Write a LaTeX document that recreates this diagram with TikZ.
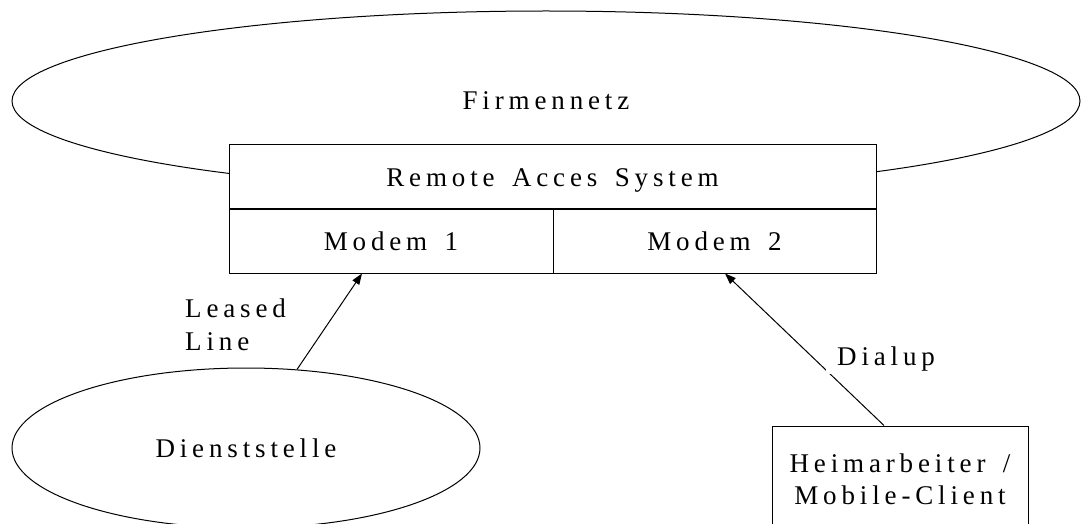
\documentclass[tikz,border=0pt]{standalone}
\usepackage{fontspec}
\setmainfont{Liberation Serif}[LetterSpace=18,WordSpace=1.5]
\usetikzlibrary{shapes.geometric,arrows.meta}
\tikzset{
  every node/.style={font=\fontsize{27}{32.4}\selectfont},
  oval/.style={draw, ellipse, inner sep=0pt, line width=1pt},
  cell/.style={draw, rectangle, fill=white, line width=1pt, inner sep=0pt,
    text height=18pt, text depth=0pt},
  clientbox/.style={draw, rectangle, fill=white, line width=1pt, inner sep=0pt, align=center},
  label/.style={inner sep=0pt, align=left},
  link/.style={line width=1pt, -{Triangle[length=11pt,width=8pt]}},
}
\begin{document}
\begin{tikzpicture}[x=1pt,y=-1pt]
\useasboundingbox (0,0) rectangle (1085,524);
\node[oval, minimum width=1068pt, minimum height=180pt] (firm) at (546,101) {Firmennetz};
\node[cell, minimum width=647pt, minimum height=64pt] (ras) at (552.5,177) {Remote Acces System};
\node[cell, minimum width=324pt, minimum height=64pt] (m1) at (391,241) {Modem 1};
\node[cell, minimum width=323pt, minimum height=64pt] (m2) at (714.5,241) {Modem 2};
\node[oval, minimum width=468pt, minimum height=160pt] (dst) at (246,448) {Dienststelle};
\node[clientbox, minimum width=256pt, minimum height=106pt] (hb) at (900,479) {Heimarbeiter /\\Mobile-Client};
\draw[link] (dst.57) -- ([xshift=-29pt]m1.south);
\draw[link] ([xshift=-16pt]hb.north) -- ([xshift=10.5pt]m2.south);
\node[label, anchor=north west] (ll) at (185,299) {Leased\\Line};
\node[fill=white, inner xsep=11pt, inner ysep=3pt, anchor=south west] (dial) at (826,374) {Dialup};
\end{tikzpicture}
\end{document}
